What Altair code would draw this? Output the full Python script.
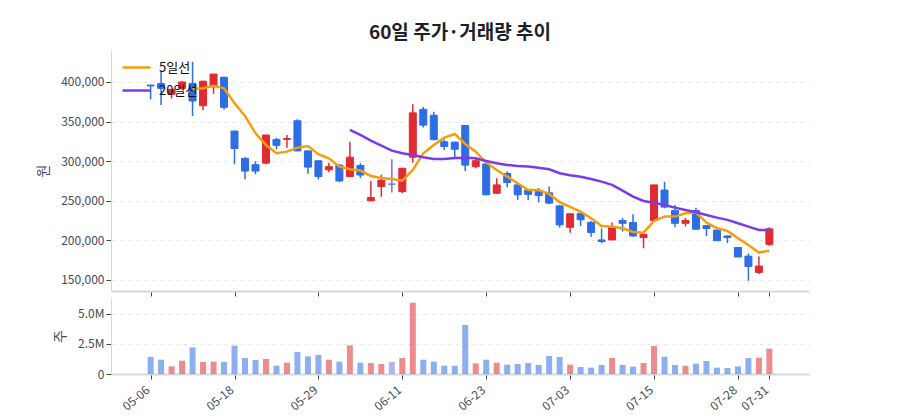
import altair as alt
import pandas as pd

# 60 trading days (2026)
dates = [
    "05-06", "05-07", "05-08", "05-11", "05-12", "05-13", "05-14", "05-15", "05-18", "05-19",
    "05-20", "05-21", "05-22", "05-26", "05-27", "05-28", "05-29", "06-01", "06-02", "06-04",
    "06-05", "06-08", "06-09", "06-10", "06-11", "06-12", "06-15", "06-16", "06-17", "06-18",
    "06-19", "06-22", "06-23", "06-24", "06-25", "06-26", "06-29", "06-30", "07-01", "07-02",
    "07-03", "07-06", "07-07", "07-08", "07-09", "07-10", "07-13", "07-14", "07-15", "07-16",
    "07-20", "07-21", "07-22", "07-23", "07-24", "07-27", "07-28", "07-29", "07-30", "07-31",
]
opens = [
    396000, 398000, 384500, 392000, 398000, 370000, 394000, 406000, 338000, 303500,
    295500, 297500, 327500, 327500, 351000, 313000, 300500, 289000, 295000, 280500,
    294500, 250000, 268000, 271000, 261500, 305000, 365500, 358000, 324500, 324000,
    345000, 293000, 296500, 259500, 284500, 270000, 263500, 261500, 260000, 243500,
    216500, 234000, 222500, 200500, 200500, 225000, 222500, 203500, 225000, 263500,
    237500, 221500, 237500, 218500, 213000, 205500, 191000, 180000, 159500, 195000,
]
highs = [
    396500, 413000, 391000, 401000, 425500, 401500, 410000, 406500, 338500, 305000,
    300000, 333500, 329500, 333000, 353000, 313000, 301000, 298000, 296000, 324500,
    297500, 275000, 283000, 302500, 291500, 372000, 368500, 362500, 327500, 324500,
    345000, 305000, 297000, 278500, 287000, 270500, 265000, 266000, 268000, 244000,
    234000, 234500, 224500, 215000, 222500, 228000, 233000, 208000, 270000, 274000,
    244500, 228500, 241000, 219000, 213000, 206000, 191500, 183500, 179500, 216500,
]
lows = [
    378000, 371000, 379000, 390000, 357000, 364500, 385000, 365000, 296500, 277000,
    283500, 296000, 315000, 317000, 312500, 284000, 277000, 286000, 273500, 280000,
    278500, 249500, 255000, 260500, 259500, 298000, 342500, 326000, 314000, 305000,
    287500, 291000, 257000, 258500, 267000, 251000, 251000, 248000, 245500, 216000,
    209500, 218000, 204500, 196500, 200000, 211000, 204500, 190000, 224500, 240500,
    216500, 217500, 214000, 205500, 199000, 196500, 178500, 149000, 157500, 193000,
]
closes = [
    395000, 392000, 390800, 400000, 376000, 401000, 410000, 368000, 316000, 287500,
    287500, 333000, 320000, 328500, 313000, 292500, 280500, 293000, 275000, 305000,
    282500, 254000, 276000, 271000, 291000, 361000, 345500, 327500, 318500, 315000,
    295000, 300500, 257500, 270000, 273000, 257500, 258000, 256500, 247000, 219500,
    233500, 226000, 210000, 198500, 216500, 221500, 205500, 207500, 270000, 242000,
    221500, 225000, 214000, 215000, 199500, 203500, 179000, 167000, 167500, 214500,
]
volumes = [
    1420000, 1190000, 640000, 1110000, 2220000, 1000000, 1030000, 1000000, 2360000, 1330000,
    1170000, 1250000, 690000, 940000, 1830000, 1470000, 1580000, 1190000, 1030000, 2390000,
    940000, 920000, 830000, 1000000, 1330000, 5940000, 1190000, 1030000, 690000, 690000,
    4080000, 890000, 1190000, 940000, 780000, 830000, 920000, 750000, 1500000, 1420000,
    780000, 580000, 530000, 750000, 1330000, 750000, 610000, 920000, 2330000, 1440000,
    750000, 690000, 860000, 1080000, 530000, 500000, 640000, 1330000, 1360000, 2110000,
]
ma5 = [
    None, None, None, None, 391200, 392000, 395300, 392000, 373100, 357100,
    335200, 320500, 310000, 312000, 317100, 319200, 308700, 303600, 293100, 289800,
    288100, 281300, 278800, 277500, 275400, 288900, 310000, 320500, 329700, 334300,
    321700, 312000, 298100, 288900, 280400, 272100, 263600, 263600, 258600, 248300,
    242300, 236300, 227900, 218200, 217300, 215300, 210600, 209700, 224500, 230000,
    230000, 234200, 235000, 222400, 215300, 211900, 202600, 194200, 184500, 187000,
]
ma20 = [
    None, None, None, None, None, None, None, None, None, None,
    None, None, None, None, None, None, None, None, None, 339400,
    333100, 325900, 319600, 313300, 310000, 307800, 304900, 302800, 302800, 304000,
    304400, 303600, 300300, 297300, 295200, 293900, 293100, 291800, 289800, 284700,
    282200, 280400, 277500, 274100, 270000, 262800, 255200, 249700, 247600, 244700,
    241300, 238400, 235500, 232100, 228700, 225800, 221600, 217300, 213100, 213100,
]

UP, DOWN, FLAT = "#df2b31", "#2d6de6", "#7272ee"
MA_COLORS = ["#f59e0b", "#7c3aed"]
AXIS_LINE = "#d3d7df"
TEXT = "#444a55"
FONT = "Noto Sans CJK KR"

df = pd.DataFrame({
    "idx": range(len(dates)), "date": dates,
    "open": opens, "high": highs, "low": lows, "close": closes, "vol": volumes,
})
df["col"] = [UP if c > o else (DOWN if c < o else FLAT) for o, c in zip(opens, closes)]

ma_rows = []
for i, (a, b) in enumerate(zip(ma5, ma20)):
    if a is not None:
        ma_rows.append({"idx": i, "series": "5일선", "value": a})
    if b is not None:
        ma_rows.append({"idx": i, "series": "20일선", "value": b})
ma_df = pd.DataFrame(ma_rows)

X_DOMAIN = [-3.3, 62.3]
TICK_IDX = [0, 8, 16, 24, 32, 40, 48, 56, 59]
label_expr = "[" + ",".join(f"'{d}'" for d in dates) + "][datum.value]"

x_scale = alt.Scale(domain=X_DOMAIN, nice=False, zero=False)
x_top = alt.X("idx:Q", scale=x_scale, title=None,
              axis=alt.Axis(values=TICK_IDX, labels=False, grid=False, tickSize=5,
                            tickColor=TEXT, domainColor=AXIS_LINE, domainWidth=2))
x_bot = alt.X("idx:Q", scale=x_scale, title=None,
              axis=alt.Axis(values=TICK_IDX, labelExpr=label_expr, labelAngle=-40,
                            labelAlign="right", labelBaseline="middle", labelPadding=9,
                            labelOffset=-3, labelFontSize=12, labelColor=TEXT, grid=False,
                            tickSize=5, tickColor=TEXT, domainColor=AXIS_LINE, domainWidth=2))

y_price = alt.Y("low:Q", title="원",
                scale=alt.Scale(domain=[136000, 440400], nice=False, zero=False),
                axis=alt.Axis(values=[150000, 200000, 250000, 300000, 350000, 400000],
                              format=",d", tickSize=5, tickColor=TEXT, labelColor=TEXT,
                              labelFontSize=12, domainColor=AXIS_LINE, gridColor="#e6e8ec",
                              gridDash=[4, 4], titleFontSize=14, titleColor=TEXT,
                              titleFontWeight="normal", titlePadding=10))

base = alt.Chart(df)
wick = base.mark_rule(strokeWidth=1.5).encode(
    x=x_top, y=y_price, y2="high:Q", color=alt.Color("col:N", scale=None))
body = base.mark_bar(size=7, strokeWidth=1).encode(
    x=x_top, y="open:Q", y2="close:Q",
    color=alt.Color("col:N", scale=None), stroke=alt.Stroke("col:N", scale=None))

lines = alt.Chart(ma_df).mark_line(strokeWidth=2.5).encode(
    x=x_top, y="value:Q",
    color=alt.Color("series:N",
                    scale=alt.Scale(domain=["5일선", "20일선"], range=MA_COLORS),
                    legend=alt.Legend(title=None, orient="none", legendX=10, legendY=2,
                                      symbolType="stroke", symbolSize=784,
                                      symbolStrokeWidth=2.5, labelFontSize=13,
                                      labelColor="#111", rowPadding=-7, labelOffset=7)))

top = alt.layer(wick, body, lines).resolve_scale(
    color="independent", stroke="independent"
).properties(
    width=698, height=241,
    title=alt.TitleParams("60일 주가·거래량 추이", fontSize=19, fontWeight="bold",
                          anchor="middle", frame="group", color="#1b1f2a", offset=7),
)

bottom = alt.Chart(df).mark_bar(size=6, opacity=0.55).encode(
    x=x_bot,
    y=alt.Y("vol:Q", title="주",
            scale=alt.Scale(domain=[0, 6330000], nice=False),
            axis=alt.Axis(values=[0, 2500000, 5000000],
                          labelExpr="datum.value == 0 ? '0' : format(datum.value / 1000000, '.1f') + 'M'",
                          tickSize=5, tickColor=TEXT, labelColor=TEXT, labelFontSize=12,
                          domainColor=AXIS_LINE, gridColor="#e6e8ec", gridDash=[4, 4],
                          titleFontSize=14, titleColor=TEXT, titleFontWeight="normal",
                          titlePadding=10)),
    color=alt.Color("col:N", scale=None),
).properties(width=698, height=76)

chart = alt.vconcat(top, bottom, spacing=1).properties(
    padding={"left": 28, "top": 16, "right": 5, "bottom": 5}
).configure(font=FONT).configure_view(stroke=None)

chart.save("out.html", embed_options={"renderer": "svg", "actions": False})
